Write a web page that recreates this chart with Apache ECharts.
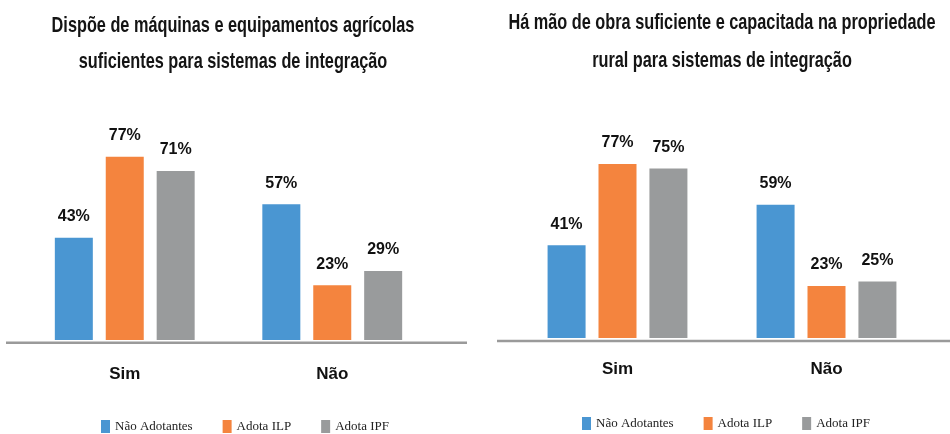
<!DOCTYPE html>
<html>
<head>
<meta charset="utf-8">
<script src="https://cdn.jsdelivr.net/npm/echarts@6/dist/echarts.min.js"></script>
<style>
  html, body { margin: 0; padding: 0; background: #fff; }
  #chart { width: 950px; height: 434px; }
</style>
</head>
<body>
<div id="chart"></div>
<script>
const categories = ["Sim", "Não"];
const seriesNames = ["Não Adotantes", "Adota ILP", "Adota IPF"];
const colors = ["#4a96d2", "#f4843e", "#999b9c"];

// left chart: máquinas e equipamentos
const leftTitle = ["Dispõe de máquinas e equipamentos agrícolas", "suficientes para sistemas de integração"];
const leftNaoAdotantes = [43, 57];
const leftAdotaILP = [77, 23];
const leftAdotaIPF = [71, 29];

// right chart: mão de obra
const rightTitle = ["Há mão de obra suficiente e capacitada na propriedade", "rural para sistemas de integração"];
const rightNaoAdotantes = [41, 59];
const rightAdotaILP = [77, 23];
const rightAdotaIPF = [75, 25];

const sans = "'Liberation Sans', Arial, sans-serif";

const chart = echarts.init(document.getElementById("chart"));

const makeSeries = (data, idx, axisIdx) => ({
    name: seriesNames[idx],
    type: "bar",
    xAxisIndex: axisIdx,
    yAxisIndex: axisIdx,
    data: data,
    barWidth: 38,
    barGap: "34%",
    itemStyle: { color: colors[idx] },
    label: {
        show: true,
        position: "top",
        distance: 13,
        formatter: "{c}%",
        fontFamily: sans,
        fontWeight: "bold",
        fontSize: 16,
        color: "#111"
    },
    animation: false
});

const xAxisCommon = {
    type: "category",
    data: categories,
    axisLine: { show: false },
    axisTick: { show: false },
    axisLabel: {
        fontFamily: sans,
        fontWeight: "bold",
        fontSize: 17,
        color: "#111"
    }
};

const yAxisCommon = {
    type: "value",
    min: 0,
    max: 100,
    show: false,
    splitLine: { show: false }
};

const legendCommon = {
    icon: "rect",
    itemWidth: 9,
    itemHeight: 13,
    itemGap: 30,
    textStyle: {
        fontFamily: "'Liberation Serif', 'Times New Roman', serif",
        fontSize: 13,
        color: "#222"
    }
};

// title lines, condensed like the original narrow font
const titleText = (lines, cx, ys) => lines.map((t, i) => ({
    type: "text",
    x: cx,
    y: ys[i],
    scaleX: 0.74,
    style: {
        text: t,
        fontFamily: sans,
        fontWeight: "bold",
        fontSize: 22,
        fill: "#141414",
        align: "center",
        verticalAlign: "middle"
    }
}));

const option = {
    backgroundColor: "#fff",
    legend: [
        Object.assign({}, legendCommon, { data: seriesNames, left: 96, top: 415 }),
        Object.assign({}, legendCommon, { data: seriesNames, left: 577, top: 412 })
    ],
    grid: [
        { left: 21, top: 102, width: 415, height: 238 },
        { left: 513, top: 112, width: 418, height: 226 }
    ],
    xAxis: [
        Object.assign({}, xAxisCommon, { gridIndex: 0, axisLabel: Object.assign({}, xAxisCommon.axisLabel, { margin: 26 }) }),
        Object.assign({}, xAxisCommon, { gridIndex: 1, axisLabel: Object.assign({}, xAxisCommon.axisLabel, { margin: 23 }) })
    ],
    yAxis: [
        Object.assign({}, yAxisCommon, { gridIndex: 0 }),
        Object.assign({}, yAxisCommon, { gridIndex: 1 })
    ],
    series: [
        makeSeries(leftNaoAdotantes, 0, 0),
        makeSeries(leftAdotaILP, 1, 0),
        makeSeries(leftAdotaIPF, 2, 0),
        makeSeries(rightNaoAdotantes, 0, 1),
        makeSeries(rightAdotaILP, 1, 1),
        makeSeries(rightAdotaIPF, 2, 1)
    ],
    graphic: [
        // baseline rules extend beyond the category bands, like the original
        {
            type: "line",
            shape: { x1: 6, y1: 342.8, x2: 467, y2: 342.8 },
            style: { stroke: "#9a9a9a", lineWidth: 2.5 }
        },
        {
            type: "line",
            shape: { x1: 497, y1: 341, x2: 950, y2: 341 },
            style: { stroke: "#9a9a9a", lineWidth: 2.5 }
        }
    ].concat(titleText(leftTitle, 233, [26, 62]), titleText(rightTitle, 722, [23, 61]))
};

chart.setOption(option);
window.addEventListener("resize", chart.resize);
</script>
</body>
</html>
